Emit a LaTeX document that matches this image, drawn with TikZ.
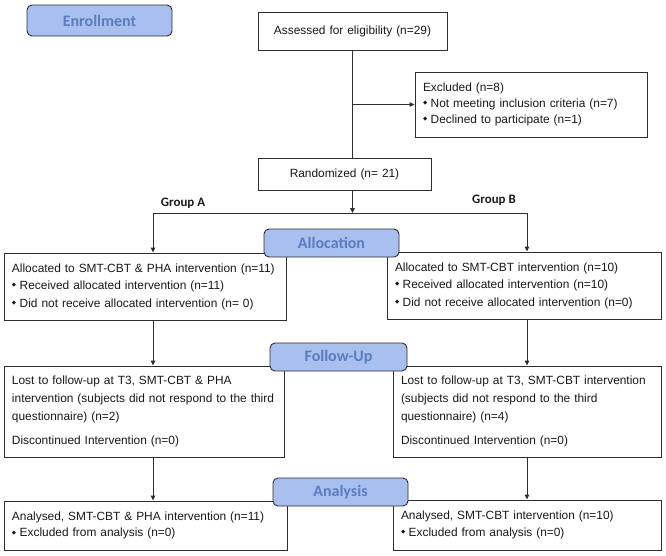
\documentclass[tikz,border=0pt]{standalone}
\usepackage{fontspec}
\setmainfont{Liberation Sans}
\newfontfamily\carlito{Carlito}
\newfontfamily\djv{DejaVu Sans}
\usetikzlibrary{arrows.meta}
\definecolor{lblfill}{RGB}{168,191,240}
\definecolor{lbltext}{RGB}{90,125,190}
\definecolor{edgec}{RGB}{45,45,45}
\definecolor{txtc}{RGB}{25,25,25}
\newcommand\dmd{\raisebox{0.45ex}{\djv\fontsize{5.5}{5.5}\selectfont ◆}\hspace{3.5pt}}
\begin{document}
\begin{tikzpicture}[x=1pt,y=-1pt,
  box/.style={draw=edgec, line width=0.9pt, fill=white, inner xsep=8pt, inner ysep=0pt,
    align=left, text=txtc, font=\fontsize{11.9}{17.5}\selectfont},
  phase/.style={draw=edgec, line width=0.9pt, fill=lblfill, rounded corners=5pt,
    inner sep=0pt, text=lbltext, font=\carlito\bfseries\fontsize{16}{16}\selectfont},
  grp/.style={font=\carlito\bfseries\fontsize{12.9}{13}\selectfont, text=txtc},
  conn/.style={draw=edgec, line width=0.9pt},
  arr/.style={conn, -{Triangle[length=5pt,width=4.5pt]}}]

\useasboundingbox (0,0) rectangle (666,555);

% boxes
\node[box, align=center, text width=173pt, minimum height=38pt] (assess) at (352.5,31)
  {Assessed for eligibility (n=29)};
\node[box, text width=216pt, minimum height=65pt, font=\fontsize{11.9}{15.7}\selectfont] (excl) at (531,104.5)
  {Excluded (n=8)\\ \dmd Not meeting inclusion criteria (n=7)\\ \dmd Declined to participate (n=1)};
\node[box, align=center, text width=157pt, minimum height=32pt] (rand) at (344.5,174)
  {Randomized (n= 21)};

\node[box, text width=266pt, minimum height=67pt] (allocA) at (145,286.5)
  {Allocated to SMT-CBT \& PHA intervention (n=11)\\ \dmd Received allocated intervention (n=11)\\ \dmd Did not receive allocated intervention (n= 0)};
\node[box, text width=258pt, minimum height=67pt] (allocB) at (524,285.5)
  {Allocated to SMT-CBT intervention (n=10)\\ \dmd Received allocated intervention (n=10)\\ \dmd Did not receive allocated intervention (n=0)};

\node[box, text width=264pt, minimum height=91pt, font=\fontsize{11.9}{18}\selectfont] (fuA) at (144,411.5)
  {Lost to follow-up at T3, SMT-CBT \& PHA\\ intervention (subjects did not respond to the third\\ questionnaire) (n=2)\\[6pt] Discontinued Intervention (n=0)};
\node[box, text width=252pt, minimum height=91pt, font=\fontsize{11.9}{18}\selectfont] (fuB) at (527,411.5)
  {Lost to follow-up at T3, SMT-CBT intervention\\ (subjects did not respond to the third\\ questionnaire) (n=4)\\[6pt] Discontinued Intervention (n=0)};

\node[box, text width=267pt, minimum height=49pt, font=\fontsize{11.9}{16.7}\selectfont] (anA) at (145.5,525.5)
  {Analysed, SMT-CBT \& PHA intervention (n=11)\\ \dmd Excluded from analysis (n=0)};
\node[box, text width=252pt, minimum height=50pt, font=\fontsize{11.9}{16.7}\selectfont] (anB) at (527,525)
  {Analysed, SMT-CBT intervention (n=10)\\ \dmd Excluded from analysis (n=0)};

% connectors
\coordinate (gA) at (153,213);
\coordinate (gB) at (527,213);
\coordinate (split) at (assess.south |- gA);
\draw[conn] (assess.south) -- (assess.south |- rand.north);
\draw[arr] (assess.south |- excl.west) -- (excl.west);
\draw[arr] (assess.south |- rand.south) -- (split);
\draw[conn] (gA) -- (gB);
\draw[arr] (gA) -- (gA |- allocA.north);
\draw[arr] (gB) -- (gB |- allocB.north);
\draw[arr] (gA |- allocA.south) -- (gA |- fuA.north);
\draw[arr] (gB |- allocB.south) -- (gB |- fuB.north);
\draw[arr] (gA |- fuA.south) -- (gA |- anA.north);
\draw[arr] (gB |- fuB.south) -- (gB |- anB.north);

% group labels
\node[grp] (grpA) at (183,203) {Group A};
\node[grp] (grpB) at (494,200) {Group B};

% phase labels
\node[phase, minimum width=145pt, minimum height=31pt] (enroll) at (99.5,20.5) {Enrollment};
\node[phase, minimum width=135pt, minimum height=28pt] (allocL) at (331.5,243) {Allocation};
\node[phase, minimum width=137pt, minimum height=28pt] (fuL) at (338.5,357) {Follow-Up};
\node[phase, minimum width=135pt, minimum height=28pt] (anL) at (340.5,492) {Analysis};
\end{tikzpicture}
\end{document}
